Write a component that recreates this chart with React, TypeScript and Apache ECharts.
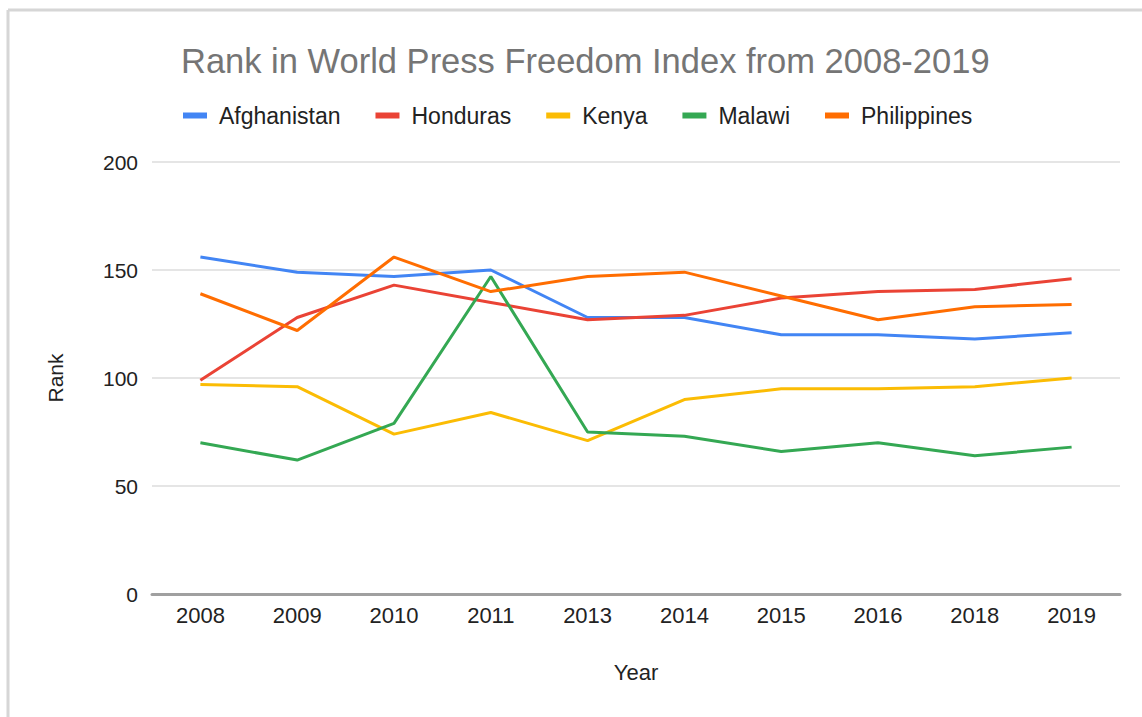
import React, { useEffect, useRef } from "react";
import * as echarts from "echarts";

const years = ["2008", "2009", "2010", "2011", "2013", "2014", "2015", "2016", "2018", "2019"];
const afghanistan = [156, 149, 147, 150, 128, 128, 120, 120, 118, 121];
const honduras = [99, 128, 143, 135, 127, 129, 137, 140, 141, 146];
const kenya = [97, 96, 74, 84, 71, 90, 95, 95, 96, 100];
const malawi = [70, 62, 79, 147, 75, 73, 66, 70, 64, 68];
const philippines = [139, 122, 156, 140, 147, 149, 138, 127, 133, 134];
const yTicks = [0, 50, 100, 150, 200];

const names = ["Afghanistan", "Honduras", "Kenya", "Malawi", "Philippines"];
const colors = ["#4285F4", "#EA4335", "#FBBC04", "#34A853", "#FF6D01"];
const seriesData = [afghanistan, honduras, kenya, malawi, philippines];

export default function App() {
  const ref = useRef<HTMLDivElement>(null);
  useEffect(() => {
    if (!ref.current) return;
    const chart = echarts.init(ref.current, null, { renderer: "svg" });
    const font = "Liberation Sans, Arial, sans-serif";
    chart.setOption({
      animation: false,
      backgroundColor: "#ffffff",
      textStyle: { fontFamily: font },
      title: {
        text: "Rank in World Press Freedom Index from 2008-2019",
        left: 176,
        top: 38,
        textStyle: { fontFamily: font, fontSize: 34.5, fontWeight: "normal", color: "#757575" },
      },
      legend: {
        data: names,
        left: 178,
        top: 99,
        icon: "rect",
        itemWidth: 24,
        itemHeight: 6,
        itemGap: 35,
        textStyle: { fontFamily: font, fontSize: 23, color: "#222222", padding: [0, 0, 0, 7] },
      },
      grid: { left: 152, right: 22, top: 162, bottom: 123, containLabel: false },
      xAxis: {
        type: "category",
        data: years,
        boundaryGap: true,
        name: "Year",
        nameLocation: "middle",
        nameGap: 67,
        nameTextStyle: { fontFamily: font, fontSize: 22, color: "#222222" },
        axisLine: { show: true, lineStyle: { color: "#a0a0a0", width: 3 } },
        axisTick: { show: false },
        axisLabel: { fontFamily: font, fontSize: 22, color: "#222222", margin: 10 },
      },
      yAxis: {
        type: "value",
        min: yTicks[0],
        max: yTicks[yTicks.length - 1],
        interval: 50,
        name: "Rank",
        nameLocation: "middle",
        nameGap: 86,
        nameTextStyle: { fontFamily: font, fontSize: 21, color: "#222222" },
        axisLine: { show: false },
        axisTick: { show: false },
        axisLabel: { fontFamily: font, fontSize: 21, color: "#222222", margin: 14 },
        splitLine: { lineStyle: { color: "#dcdcdc", width: 1.5 } },
      },
      graphic: [
        { type: "line", shape: { x1: 8, y1: 10, x2: 1142, y2: 10 }, style: { stroke: "#d6d6d6", lineWidth: 3 } },
        { type: "line", shape: { x1: 8, y1: 10, x2: 8, y2: 717 }, style: { stroke: "#d6d6d6", lineWidth: 3 } },
      ],
      series: names.map((n, i) => ({
        name: n,
        type: "line",
        data: seriesData[i],
        symbol: "none",
        lineStyle: { color: colors[i], width: 3 },
        itemStyle: { color: colors[i] },
      })),
    });
    return () => chart.dispose();
  }, []);
  return <div ref={ref} style={{ position: "fixed", left: 0, top: 0, width: 1142, height: 717 }} />;
}
